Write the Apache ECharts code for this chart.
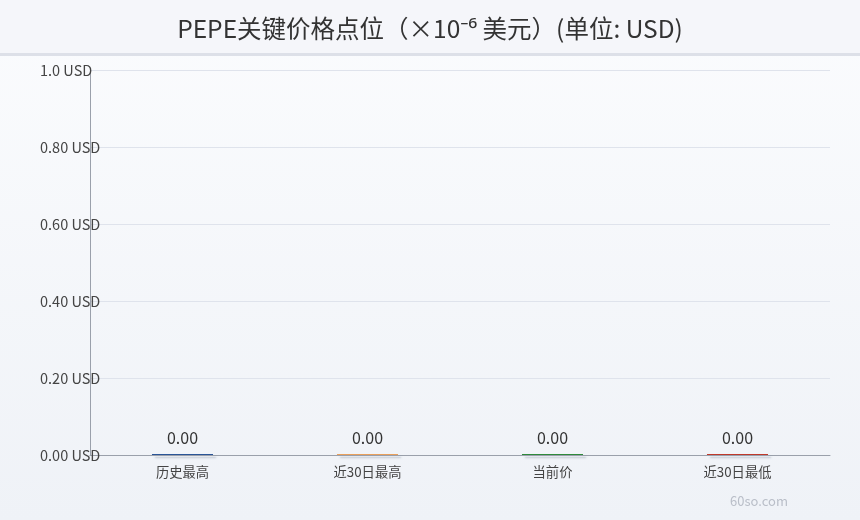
<!DOCTYPE html>
<html>
<head>
<meta charset="utf-8">
<script src="https://cdn.jsdelivr.net/npm/echarts@6/dist/echarts.min.js"></script>
<style>
html,body{margin:0;padding:0;width:860px;height:520px;overflow:hidden;}
#c{width:860px;height:520px;}
</style>
</head>
<body>
<div id="c"></div>
<script>
const titleText = 'PEPE关键价格点位（×10⁻⁶ 美元）(单位: USD)';
const categories = ['历史最高', '近30日最高', '当前价', '近30日最低'];
const values = [0.0000284, 0.0000125, 0.0000101, 0.0000087];
const barColors = ['#2a5597', '#e9a05c', '#2f8a3c', '#c0392b'];
const yTickValues = [0, 0.2, 0.4, 0.6, 0.8, 1.0];
const yTickLabels = ['0.00 USD', '0.20 USD', '0.40 USD', '0.60 USD', '0.80 USD', '1.0 USD'];
const watermark = '60so.com';

const FONT = '"Noto Sans CJK SC", "Noto Sans", sans-serif';
const chart = echarts.init(document.getElementById('c'));
chart.setOption({
  backgroundColor: {
    type: 'linear', x: 0, y: 0, x2: 0, y2: 1,
    colorStops: [{offset: 0, color: '#fbfcfe'}, {offset: 1, color: '#eff2f7'}]
  },
  textStyle: {fontFamily: FONT},
  graphic: [
    {type: 'rect', left: 0, top: 0, z: -1, shape: {width: 860, height: 53}, style: {fill: '#f5f6fa'}},
    {type: 'rect', left: 0, top: 53, z: -1, shape: {width: 860, height: 3}, style: {fill: '#dde0e8'}},
    {type: 'text', left: 730, top: 495, style: {text: watermark, fill: '#b9bec8', font: '13px ' + FONT}}
  ],
  title: {
    text: titleText, left: 'center', top: 11,
    textStyle: {fontSize: 24.5, fontWeight: 'normal', color: '#333', fontFamily: FONT}
  },
  grid: {left: 90, right: 30, top: 70, bottom: 65},
  xAxis: {
    type: 'category', data: categories,
    axisLine: {lineStyle: {color: '#9aa0ab'}},
    axisTick: {show: false},
    axisLabel: {color: '#444', fontSize: 13.3, margin: 10}
  },
  yAxis: {
    type: 'value', min: 0, max: 1, interval: 0.2,
    axisLine: {show: true, lineStyle: {color: '#9aa0ab'}},
    axisTick: {show: false},
    splitLine: {lineStyle: {color: '#dfe3ec'}},
    axisLabel: {
      color: '#444', fontSize: 14.5, align: 'left', margin: 50, padding: [0, 0, 3, 0],
      formatter: v => {
        const i = yTickValues.findIndex(t => Math.abs(t - v) < 1e-9);
        return i >= 0 ? yTickLabels[i] : '';
      }
    }
  },
  series: [{
    type: 'bar',
    barWidth: '33%',
    barMinHeight: 1,
    data: values.map((v, i) => ({value: v, itemStyle: {color: barColors[i]}})),
    itemStyle: {shadowColor: 'rgba(120,130,150,0.5)', shadowBlur: 2, shadowOffsetX: 3, shadowOffsetY: 3},
    label: {
      show: true, position: 'top', distance: 8, color: '#333', fontSize: 16,
      formatter: p => p.value.toFixed(2)
    }
  }]
});
</script>
</body>
</html>
